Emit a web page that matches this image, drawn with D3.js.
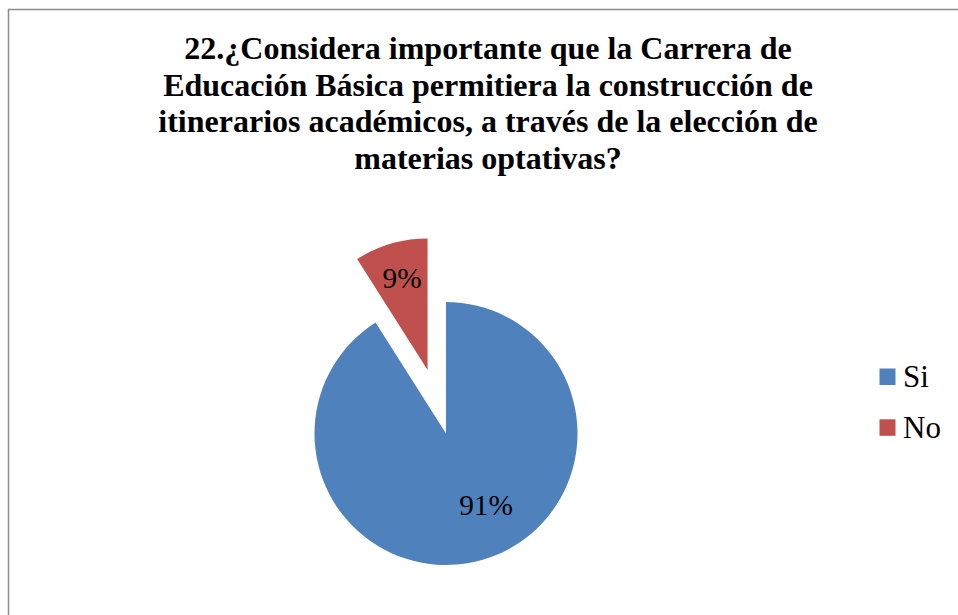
<!DOCTYPE html>
<html><head><meta charset="utf-8">
<script src="https://cdn.jsdelivr.net/npm/d3@7/dist/d3.min.js"></script>
</head><body style="margin:0">
<svg id="c" width="958" height="615"></svg>
<script>
const categories = ["Si", "No"];
const values = [91, 9];
const labels = ["91%", "9%"];
const colors = ["#4F81BD", "#C0504D"];
const titleLines = [
  "22.¿Considera importante que la Carrera de",
  "Educación Básica permitiera la construcción de",
  "itinerarios académicos, a través de la elección de",
  "materias optativas?"
];
const explode = [0, 66];

const svg = d3.select("#c");
const font = "Liberation Serif";

// frame
svg.append("rect").attr("x", 8.5).attr("y", 9.5).attr("width", 1000).attr("height", 700)
  .attr("fill", "#fff").attr("stroke", "#8c8c8c").attr("stroke-width", 1.5);

// title
svg.append("g").selectAll("text").data(titleLines).join("text")
  .attr("x", 488).attr("y", (d, i) => 59 + i * 36.5)
  .attr("text-anchor", "middle")
  .attr("font-weight", "bold").attr("font-size", 32).attr("fill", "#000")
  .style("font-family", font)
  .text(d => d);

// pie
const cx = 446, cy = 433.5, r = 131.5;
const pie = d3.pie().sort(null).value(d => d)(values);
const arc = d3.arc().innerRadius(0).outerRadius(r);
const g = svg.append("g").attr("transform", `translate(${cx},${cy})`);
const slices = g.selectAll("g.s").data(pie).join("g").attr("class", "s")
  .attr("transform", (d, i) => {
    const a = (d.startAngle + d.endAngle) / 2;
    return `translate(${Math.sin(a) * explode[i]},${-Math.cos(a) * explode[i]})`;
  });
slices.append("path").attr("d", arc).attr("fill", (d, i) => colors[i]);

const labelPos = [[40, 81.5], [-44, -145.5]];
slices.append("text")
  .attr("x", (d, i) => {
    const a = (d.startAngle + d.endAngle) / 2;
    return labelPos[i][0] - Math.sin(a) * explode[i];
  })
  .attr("y", (d, i) => {
    const a = (d.startAngle + d.endAngle) / 2;
    return labelPos[i][1] + Math.cos(a) * explode[i];
  })
  .attr("text-anchor", "middle").attr("font-size", 29.3)
  .style("font-family", font)
  .attr("fill", "#000").text((d, i) => labels[i]);

// legend
const lg = svg.append("g").selectAll("g").data(categories).join("g")
  .attr("transform", (d, i) => `translate(879.5,${368.5 + i * 50.8})`);
lg.append("rect").attr("width", 16).attr("height", 16.5).attr("fill", (d, i) => colors[i]);
lg.append("text").attr("x", 23.5).attr("y", 18.2)
  .attr("font-size", 31).attr("fill", "#000").style("font-family", font).text(d => d);
</script>
</body></html>
